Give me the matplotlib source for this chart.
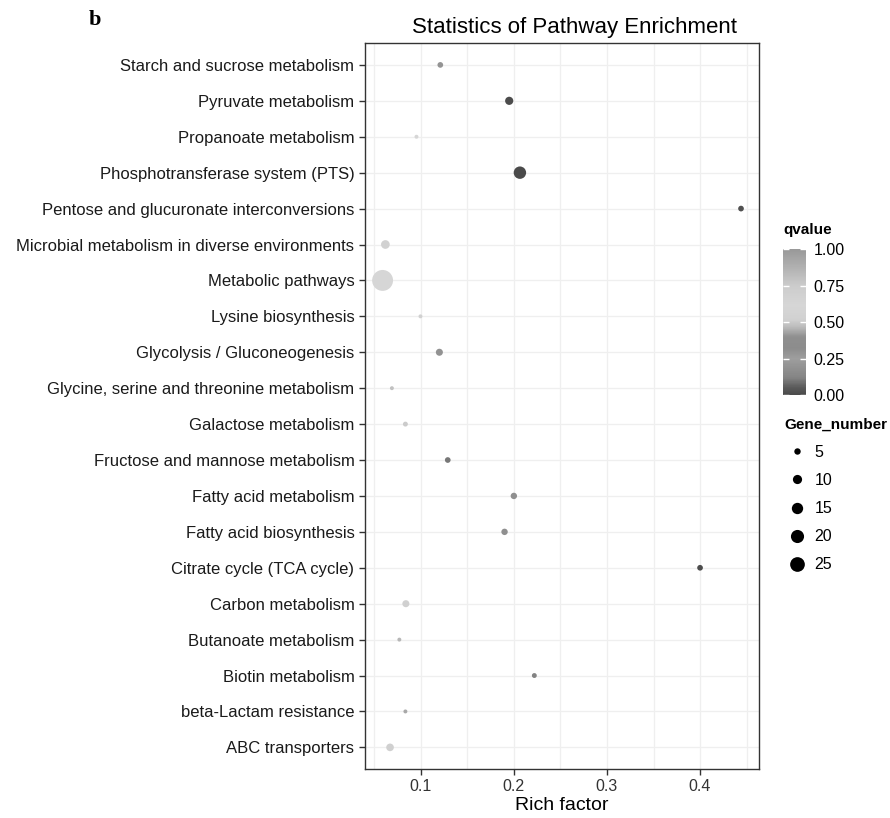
import numpy as np
import matplotlib
matplotlib.use("Agg")
import matplotlib.pyplot as plt
from matplotlib.colors import LinearSegmentedColormap
from matplotlib.lines import Line2D

plt.rcParams['font.family'] = ['Liberation Sans', 'DejaVu Sans']

# Datos (de abajo hacia arriba)
pathways = [
    "ABC transporters",
    "beta-Lactam resistance",
    "Biotin metabolism",
    "Butanoate metabolism",
    "Carbon metabolism",
    "Citrate cycle (TCA cycle)",
    "Fatty acid biosynthesis",
    "Fatty acid metabolism",
    "Fructose and mannose metabolism",
    "Galactose metabolism",
    "Glycine, serine and threonine metabolism",
    "Glycolysis / Gluconeogenesis",
    "Lysine biosynthesis",
    "Metabolic pathways",
    "Microbial metabolism in diverse environments",
    "Pentose and glucuronate interconversions",
    "Phosphotransferase system (PTS)",
    "Propanoate metabolism",
    "Pyruvate metabolism",
    "Starch and sucrose metabolism",
]
rich_factor = [0.067, 0.0835, 0.222, 0.077, 0.084, 0.400, 0.190, 0.200, 0.129, 0.0835,
               0.069, 0.120, 0.0997, 0.059, 0.062, 0.444, 0.2065, 0.0954, 0.195, 0.121]
gene_number = [7, 2, 3, 2, 6, 4, 5, 5, 4, 3,
               2, 6, 2, 50, 9, 4, 18, 2, 8, 4]
qvalue = [0.70, 0.92, 0.12, 0.85, 0.70, 0.01, 0.40, 0.40, 0.10, 0.75,
          0.80, 0.30, 0.68, 0.62, 0.68, 0.02, 0.0, 0.62, 0.01, 0.20]

legend_sizes = [5, 10, 15, 20, 25]

# Escala de grises aproximada de la barra de color
gray_stops = [(0.00, 0.29), (0.05, 0.35), (0.12, 0.52), (0.20, 0.58), (0.25, 0.62),
              (0.32, 0.55), (0.40, 0.56), (0.47, 0.74), (0.52, 0.82), (0.62, 0.84),
              (0.75, 0.80), (0.87, 0.70), (1.00, 0.60)]
cmap = LinearSegmentedColormap.from_list(
    "qgray", [(p, (g, g, g)) for p, g in gray_stops])


def diam_px(n):
    return 3 * np.sqrt(np.asarray(n, dtype=float)) - 0.3


def size_pts(n):
    return (diam_px(n) * 0.72) ** 2


fig = plt.figure(figsize=(8.9, 8.18), dpi=100)
ax = fig.add_axes([0.41, 0.06, 0.443, 0.887])

y = np.arange(len(pathways))
sc = ax.scatter(rich_factor, y, s=size_pts(gene_number), c=qvalue, cmap=cmap,
                vmin=0, vmax=1, edgecolors='none', zorder=3)

ax.set_xlim(0.04, 0.4635)
ax.set_ylim(-0.6, len(pathways) - 0.4)
ax.set_yticks(y)
ax.set_yticklabels(pathways, fontsize=12, color='#1a1a1a')
ax.set_xticks([0.1, 0.2, 0.3, 0.4])
ax.set_xticklabels(["0.1", "0.2", "0.3", "0.4"], fontsize=11.5, color='#333333')
ax.set_xticks(np.arange(0.05, 0.46, 0.1), minor=True)
ax.tick_params(axis='both', which='major', length=4, width=1, color='#333333')
ax.tick_params(axis='x', which='minor', length=0)
ax.grid(True, which='both', color='#efefef', linewidth=0.9, zorder=0)
ax.set_axisbelow(True)
for sp in ax.spines.values():
    sp.set_color('#333333')
    sp.set_linewidth(1.0)

ax.set_xlabel("Rich factor", fontsize=14, labelpad=2)
fig.text(0.646, 0.966, "Statistics of Pathway Enrichment", fontsize=16,
         ha='center', va='center')

fig.text(0.107, 0.975, "b", fontsize=16, fontweight='bold',
         family='Liberation Serif', ha='center', va='center')

# Barra de color
cax = fig.add_axes([0.88, 0.517, 0.026, 0.178])
cb = fig.colorbar(sc, cax=cax, ticks=[0, 0.25, 0.5, 0.75, 1.0])
cb.ax.set_yticklabels(["0.00", "0.25", "0.50", "0.75", "1.00"], fontsize=11.5)
cb.ax.yaxis.set_ticks_position('both')
cb.ax.tick_params(length=4, color='white', direction='in', width=1,
                  labelleft=False, labelright=True, pad=5)
cb.outline.set_visible(False)
fig.text(0.88, 0.71, "qvalue", fontsize=11, fontweight='bold', va='bottom')

# Leyenda de tamanos
handles = [Line2D([], [], linestyle='none', marker='o', color='black',
                  markeredgewidth=0, markersize=diam_px(n) * 0.72)
           for n in legend_sizes]
leg = fig.legend(handles, [str(n) for n in legend_sizes], title="Gene_number",
                 loc='upper left', bbox_to_anchor=(0.874, 0.497), frameon=False,
                 fontsize=11.5, title_fontproperties={'weight': 'bold', 'size': 11},
                 labelspacing=0.82, handletextpad=0.3, handlelength=1.6,
                 borderaxespad=0)
leg._legend_box.align = "left"

fig.savefig("out.png", dpi=100, facecolor='white')
